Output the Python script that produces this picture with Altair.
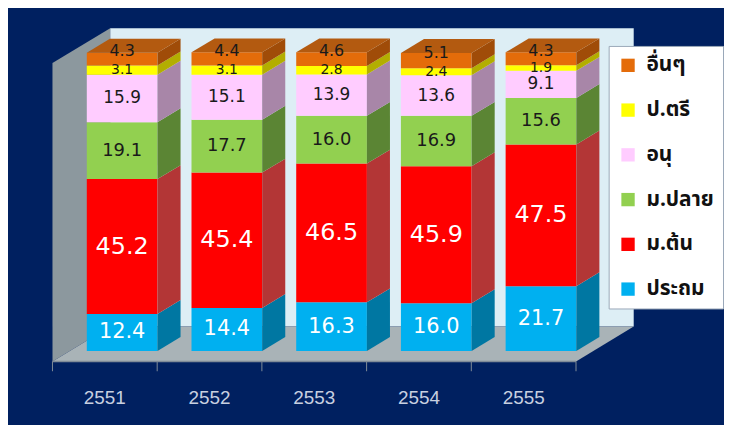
import altair as alt
import pandas as pd

# ---------------- data ----------------
years = ["2551", "2552", "2553", "2554", "2555"]
series = ["ประถม", "ม.ต้น", "ม.ปลาย", "อนุ", "ป.ตรี", "อื่นๆ"]  # bottom -> top
prathom = [12.4, 14.4, 16.3, 16.0, 21.7]
mor_ton = [45.2, 45.4, 46.5, 45.9, 47.5]
mor_plai = [19.1, 17.7, 16.0, 16.9, 15.6]
anu = [15.9, 15.1, 13.9, 13.6, 9.1]
bachelor = [3.1, 3.1, 2.8, 2.4, 1.9]
others = [4.3, 4.4, 4.6, 5.1, 4.3]
values = [prathom, mor_ton, mor_plai, anu, bachelor, others]

# ---------------- style ----------------
front_colors = ["#00B0F0", "#FF0000", "#92D050", "#FFCCFF", "#FFFF00", "#E46C0A"]
side_colors = ["#0077A2", "#B33636", "#5B8534", "#A886A8", "#B3AE00", "#A04C08"]
top_color = "#B35A10"
label_colors = ["#FFFFFF", "#FFFFFF", "#1A1A1A", "#1A1A1A", "#1A1A1A", "#1A1A1A"]
label_sizes = [21, 24, 18, 17, 14, 16]
NUM_FONT = "DejaVu Sans"
THAI_FONT = "Tahoma, Noto Sans Thai, Noto Sans Thai Looped, Noto Sans, sans-serif"
BG = "#002060"

# ---------------- layout (oblique 3D projection) ----------------
W, H = 720, 417
X_DOMAIN = [-1.09, 5.748]
Y_DOMAIN = [-24.43, 114.57]
HALF = 0.3375          # half bar width (category units)
DX, DY = 0.551, 11.67  # full depth vector in data units
D_FRONT, D_BACK = 0.3, 0.7
VMAX = 100


def proj(c, v, d):
    return c + (d - D_FRONT) * DX, v + (d - D_FRONT) * DY


xs = alt.Scale(domain=X_DOMAIN, nice=False, zero=False)
ys = alt.Scale(domain=Y_DOMAIN, nice=False, zero=False)
n = len(years)
c_lo, c_hi = -0.5, n - 0.5

# walls / floor
fx0, fy0 = proj(c_lo, 0, 0)
fx1, _ = proj(c_hi, 0, 0)
bx0, by0 = proj(c_lo, 0, 1)
bx1, _ = proj(c_hi, 0, 1)

back_df = pd.DataFrame({"x": [bx0], "x2": [bx1], "y": [by0], "y2": [by0 + VMAX]})
left_df = pd.DataFrame({"x": [fx0, bx0], "y": [fy0, by0], "y2": [fy0 + VMAX, by0 + VMAX]})
floor_df = pd.DataFrame({"y": [fy0, by0], "x": [fx0, bx0], "x2": [fx1, bx1]})
edge_df = pd.DataFrame({"x": [fx0], "x2": [fx1], "y": [fy0]})
tick_df = pd.DataFrame({"x": [proj(i - 0.5, 0, 0)[0] for i in range(n + 1)],
                        "y": [fy0] * (n + 1), "y2": [fy0 - 3.3] * (n + 1)})
year_df = pd.DataFrame({"x": [proj(i, 0, 0)[0] for i in range(n)], "y": [fy0] * n, "t": years})

bdx = (D_BACK - D_FRONT) * DX
bdy = (D_BACK - D_FRONT) * DY

front_rows, side_rows, top_rows, lab_rows = [], [], [], []
for i, yr in enumerate(years):
    lo = 0.0
    for s, name in enumerate(series):
        v = values[s][i]
        hi = lo + v
        front_rows.append({"x": i - HALF, "x2": i + HALF, "y": lo, "y2": hi, "series": name})
        key = f"{yr}-{s}"
        side_rows.append({"key": key, "x": i + HALF, "y": lo, "y2": hi, "col": side_colors[s]})
        side_rows.append({"key": key, "x": i + HALF + bdx, "y": lo + bdy, "y2": hi + bdy, "col": side_colors[s]})
        lab_rows.append({"x": i, "y": (lo + hi) / 2, "t": f"{v:.1f}", "lc": label_colors[s],
                         "fs": label_sizes[s], "top": s == len(series) - 1})
        lo = hi
    top_rows.append({"key": yr, "y": lo, "x": i - HALF, "x2": i + HALF})
    top_rows.append({"key": yr, "y": lo + bdy, "x": i - HALF + bdx, "x2": i + HALF + bdx})

front_df = pd.DataFrame(front_rows)
side_df = pd.DataFrame(side_rows)
top_df = pd.DataFrame(top_rows)
lab_df = pd.DataFrame(lab_rows)

X = lambda f="x:Q": alt.X(f, scale=xs, axis=None)
Y = lambda f="y:Q": alt.Y(f, scale=ys, axis=None)

back = alt.Chart(back_df).mark_rect(color="#DDEEF5").encode(x=X(), x2="x2:Q", y=Y(), y2="y2:Q")
left = alt.Chart(left_df).mark_area(color="#8C989E", orient="vertical").encode(
    x=X(), y=alt.Y("y:Q", scale=ys, axis=None, stack=None), y2="y2:Q")
floor = alt.Chart(floor_df).mark_area(color="#A9B3B7", orient="horizontal").encode(
    y=Y(), x=alt.X("x:Q", scale=xs, axis=None, stack=None), x2="x2:Q")
edge = alt.Chart(edge_df).mark_rule(color="#7F8B98", strokeWidth=1.5).encode(x=X(), x2="x2:Q", y=Y())
ticks = alt.Chart(tick_df).mark_rule(color="#7F8B98", strokeWidth=1).encode(x=X(), y=Y(), y2="y2:Q")
year_text = alt.Chart(year_df).mark_text(
    font="Liberation Sans", fontSize=19, color="#C8D0E0", dy=37, baseline="middle", align="center"
).encode(x=X(), y=Y(), text="t:N")

fronts = alt.Chart(front_df).mark_rect().encode(
    x=X(), x2="x2:Q", y=Y(), y2="y2:Q",
    fill=alt.Fill("series:N",
                  scale=alt.Scale(domain=series[::-1], range=front_colors[::-1]),
                  legend=alt.Legend(orient="none", legendX=604, legendY=37, title=None,
                                    fillColor="white", strokeColor="#9AA8B8", padding=9,
                                    symbolType="square", symbolSize=180, symbolStrokeWidth=0,
                                    labelFontSize=21, labelFontWeight="bold", labelFont=THAI_FONT,
                                    labelColor="#111111", rowPadding=23, labelOffset=8)),
)
sides = alt.Chart(side_df).mark_area(orient="vertical").encode(
    x=X(), y=alt.Y("y:Q", scale=ys, axis=None, stack=None), y2="y2:Q",
    color=alt.Color("col:N", scale=None), detail="key:N")
tops = alt.Chart(top_df).mark_area(orient="horizontal", color=top_color).encode(
    y=Y(), x=alt.X("x:Q", scale=xs, axis=None, stack=None), x2="x2:Q", detail="key:N")

labels = alt.Chart(lab_df).transform_filter("!datum.top").mark_text(
    font=NUM_FONT, baseline="middle", align="center").encode(
    x=X(), y=Y(), text="t:N", color=alt.Color("lc:N", scale=None), size=alt.Size("fs:Q", scale=None))
top_labels = alt.Chart(lab_df).transform_filter("datum.top").mark_text(
    font=NUM_FONT, baseline="middle", align="center", dy=-8).encode(
    x=X(), y=Y(), text="t:N", color=alt.Color("lc:N", scale=None), size=alt.Size("fs:Q", scale=None))

chart = alt.layer(back, left, floor, edge, ticks, year_text, fronts, sides, tops, labels, top_labels).properties(
    width=W, height=H, autosize=alt.AutoSizeParams(type="none"), padding=0, background=BG
).configure_view(stroke="transparent")

chart.save("out.html", embed_options={"renderer": "svg", "actions": False})
